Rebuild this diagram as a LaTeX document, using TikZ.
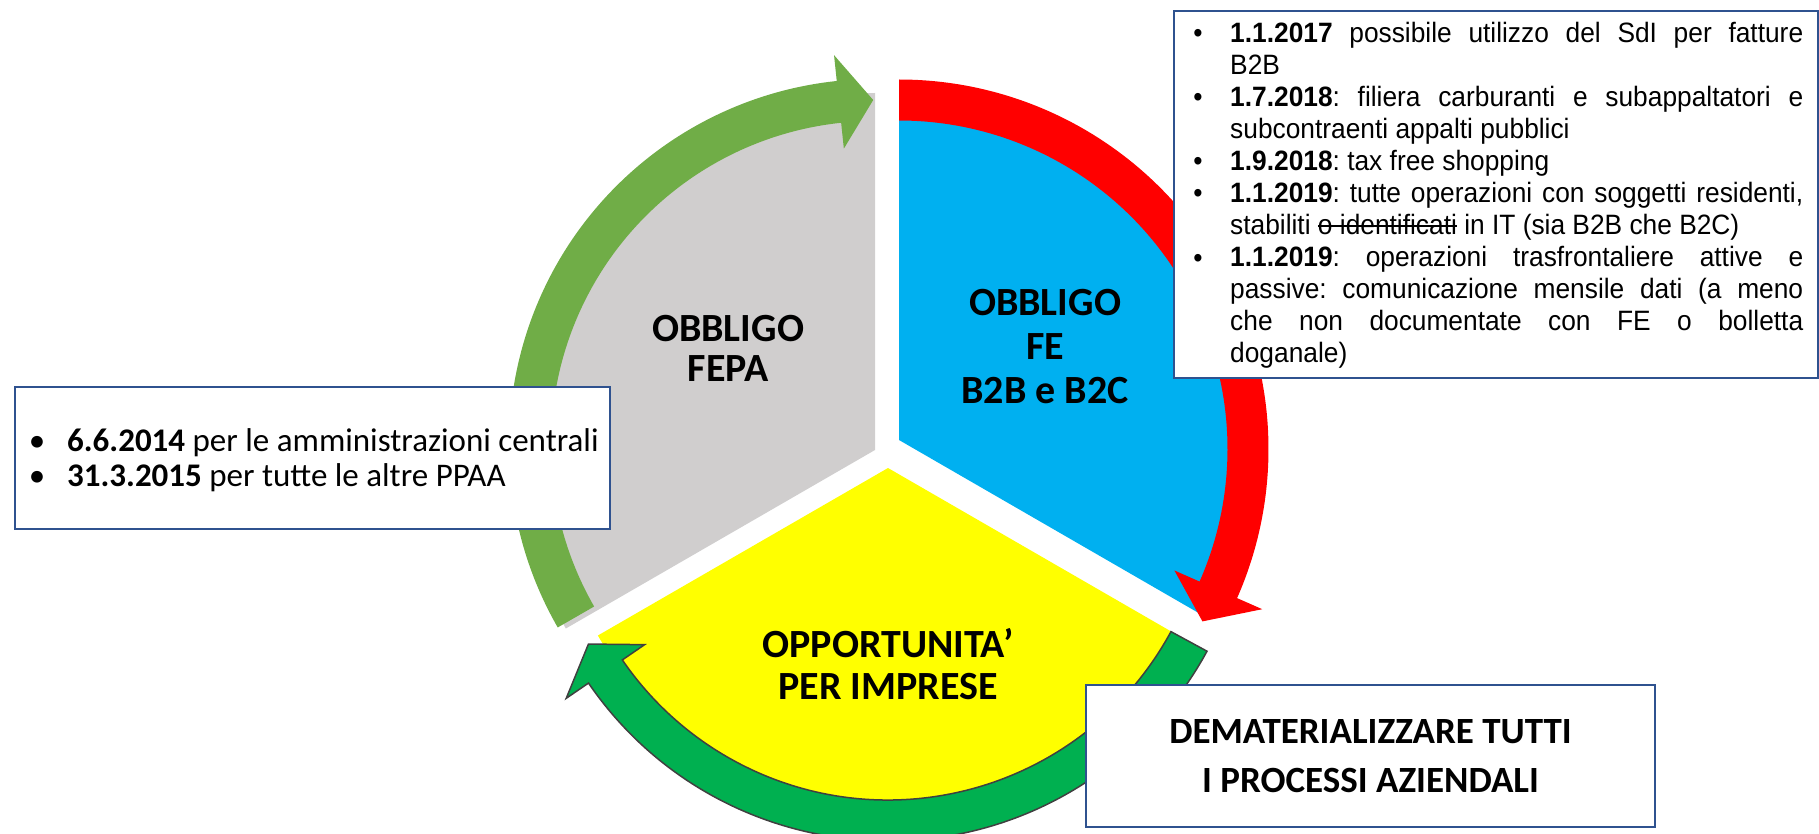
\documentclass[tikz,border=0pt]{standalone}
\usepackage{fontspec}
\setmainfont{Carlito}
\newfontfamily\arialn[FakeStretch=0.94]{Liberation Sans}
\newsavebox\strkbox
\newcommand\strk[1]{\sbox\strkbox{#1}\rlap{\rule[0.3em]{\wd\strkbox}{1.3pt}}\usebox\strkbox}
\definecolor{cOlive}{HTML}{70AD47}
\definecolor{cRed}{HTML}{FF0000}
\definecolor{cBlue}{HTML}{00B0F0}
\definecolor{cYellow}{HTML}{FFFF00}
\definecolor{cDkGreen}{HTML}{00B050}
\definecolor{cGray}{HTML}{D0CECE}
\definecolor{cBorder}{HTML}{2F528F}
\definecolor{cOutline}{HTML}{404040}
\tikzset{
  infobox/.style={draw=cBorder, line width=2pt, fill=white, inner sep=0pt, anchor=north west},
  pielabel/.style={font=\bfseries\fontsize{40}{40}\selectfont, align=center, inner sep=0pt},
  bulA/.style={inner sep=0pt, anchor=base, font=\arialn\fontsize{28}{32}\selectfont},
  bulB/.style={inner sep=0pt, anchor=base, font=\fontsize{33}{35}\selectfont},
}
\begin{document}
\begin{tikzpicture}[x=1pt,y=1pt]
\useasboundingbox (0,0) rectangle (1819,-834);

% pie sectors
\fill[cGray] (875,-450) -- ++(90:357) arc[start angle=90,end angle=210,radius=357] -- cycle;
\fill[cBlue] (899,-440) -- ++(90:352) arc[start angle=90,end angle=-30,radius=352] -- cycle;
\fill[cYellow] (888,-468) -- ++(210:335) arc[start angle=210,end angle=330,radius=335] -- cycle;

% olive arrow (left)
\begin{scope}[shift={(875,-445)}]
\fill[cOlive] (209.9:324) arc[start angle=209.9,end angle=96,radius=324]
  -- (96:298) -- (90.3:345) -- (96:392) -- (96:366)
  arc[start angle=96,end angle=209.9,radius=366] -- cycle;
\end{scope}

% red arrow (right)
\begin{scope}[shift={(899,-449)}]
\fill[cRed] (90:328.5) arc[start angle=90,end angle=-23.8,radius=328.5]
  -- (-23.8:301) -- (-29.6:349) -- (-23.8:397) -- (-23.8:369.5)
  arc[start angle=-23.8,end angle=90,radius=369.5] -- cycle;
\end{scope}

% dark green arrow (bottom)
\begin{scope}[shift={(888,-478)}]
\filldraw[fill=cDkGreen, draw=cOutline, line width=1.5pt, line join=miter]
  (-28.5:322) arc[start angle=-28.5,end angle=-145.6,radius=322]
  -- (-145.6:295) -- (-151:342.5) -- (-145.6:390) -- (-145.6:363)
  arc[start angle=-145.6,end angle=-28.5,radius=363] -- cycle;
\end{scope}

% pie labels
\node[pielabel] (fepa) at (728,-348) {OBBLIGO\\FEPA};
\node[pielabel, font=\bfseries\fontsize{40}{44}\selectfont] (fe) at (1045,-347) {OBBLIGO\\FE\\B2B e B2C};
\node[pielabel, font=\bfseries\fontsize{40}{42}\selectfont] (opp) at (888,-664) {OPPORTUNITA’\\PER IMPRESE};

% top-right box
\node[infobox, minimum width=644pt, minimum height=367pt] (trbox) at (1173,-10) {};
\node[anchor=base west, inner sep=0pt, text width=573pt, align=justify,
      font=\arialn\fontsize{28}{32}\selectfont] (trtext) at (1230,-43)
{\parindent=0pt\parskip=0pt\tolerance=10000\hyphenpenalty=10000\frenchspacing
{\bfseries 1.1.2017} possibile utilizzo del SdI per fatture\linebreak B2B\par
{\bfseries 1.7.2018}: filiera carburanti e subappaltatori e\linebreak subcontraenti appalti pubblici\par
{\bfseries 1.9.2018}: tax free shopping\par
{\bfseries 1.1.2019}: tutte operazioni con soggetti residenti,\linebreak stabiliti \strk{o identificati} in IT (sia B2B che B2C)\par
{\bfseries 1.1.2019}: operazioni trasfrontaliere attive e\linebreak passive: comunicazione mensile dati (a meno\linebreak che non documentate con FE o bolletta\linebreak doganale)\par};
\node[bulA] (tb1) at (1198,-43) {\textbullet};
\node[bulA] (tb2) at (1198,-107) {\textbullet};
\node[bulA] (tb3) at (1198,-171) {\textbullet};
\node[bulA] (tb4) at (1198,-203) {\textbullet};
\node[bulA] (tb5) at (1198,-267) {\textbullet};

% left box
\node[infobox, minimum width=595pt, minimum height=142pt] (lbox) at (14,-386) {};
\node[anchor=base west, inner sep=0pt, font=\fontsize{33}{35}\selectfont] (lt1) at (67,-451)
  {{\bfseries 6.6.2014} per le amministrazioni centrali};
\node[anchor=base west, inner sep=0pt, font=\fontsize{33}{35}\selectfont] (lt2) at (67,-486)
  {{\bfseries 31.3.2015} per tutte le altre PPAA};
\node[bulB] (lb1) at (37,-451) {\textbullet};
\node[bulB] (lb2) at (37,-486) {\textbullet};

% bottom-right box
\node[infobox, minimum width=569pt, minimum height=142pt, align=center,
      font=\bfseries\fontsize{37}{49}\selectfont] (dbox) at (1085,-684)
  {DEMATERIALIZZARE TUTTI\\I PROCESSI AZIENDALI};
\end{tikzpicture}
\end{document}
